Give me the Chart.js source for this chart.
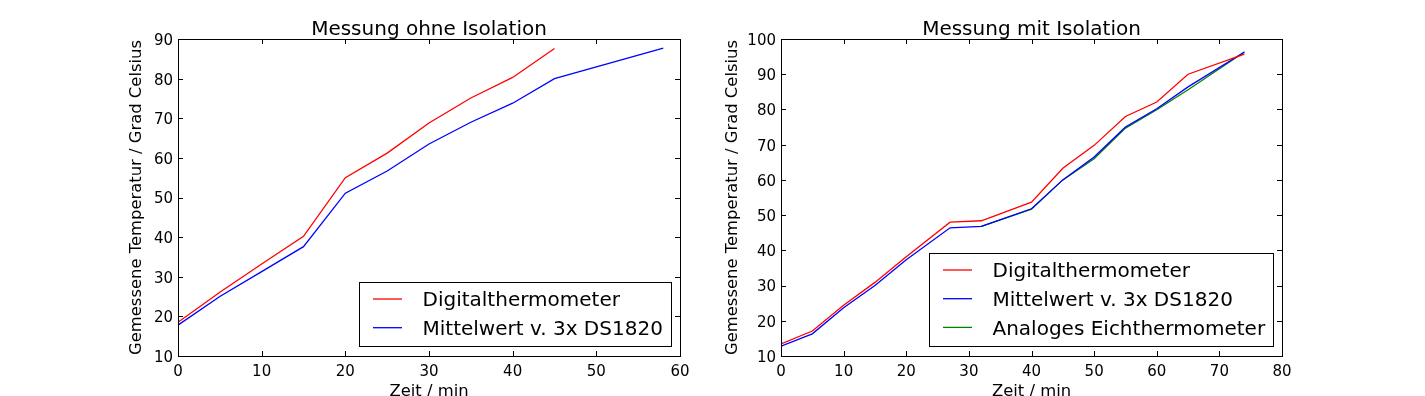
<!DOCTYPE html>
<html><head><meta charset="utf-8">
<script src="https://cdn.jsdelivr.net/npm/chart.js@4"></script>
<style>
html,body{margin:0;padding:0;background:#fff;overflow:hidden;width:1425px;height:396px}
.box{position:absolute;top:0;height:420px}
#wa{left:0;width:712px}
#wb{left:712px;width:713px}
canvas{display:block}
</style></head><body>
<div class="box" id="wa"><canvas id="ca" width="712" height="420"></canvas></div>
<div class="box" id="wb"><canvas id="cb" width="713" height="420"></canvas></div>
<script>
const FONT = "'DejaVu Sans', sans-serif";

// ---- Data: Messung ohne Isolation ----
const ohneTimeDigital = [0, 5, 10, 15, 20, 25, 30, 35, 40, 45];
const ohneDigital     = [18.5, 26.1, 33.2, 40.2, 55.0, 61.2, 68.8, 75.1, 80.3, 87.6];
const ohneTimeDS      = [0, 5, 10, 15, 20, 25, 30, 35, 40, 45, 58];
const ohneDS          = [17.8, 25.0, 31.3, 37.6, 51.1, 56.7, 63.5, 69.0, 73.8, 80.0, 87.7];

// ---- Data: Messung mit Isolation ----
const mitTime      = [0, 5, 10, 15, 20, 27, 32, 40, 45, 50, 55, 60, 65, 74];
const mitDigital   = [13.4, 17.1, 24.4, 30.9, 38.2, 48.0, 48.4, 53.7, 63.3, 69.8, 78.0, 82.1, 90.0, 95.7];
const mitDS        = [12.8, 16.3, 23.7, 30.0, 37.3, 46.4, 46.8, 51.8, 60.0, 66.5, 75.0, 80.2, 86.4, 96.3];
const mitTimeAnalog = [32, 40, 45, 50, 55, 60, 65, 74];
const mitAnalog     = [46.8, 51.7, 60.0, 66.0, 74.7, 79.9, 85.6, 96.3];

// ---- Labels ----
const titleOhne = "Messung ohne Isolation";
const titleMit = "Messung mit Isolation";
const xLabel = "Zeit / min";
const yLabel = "Gemessene Temperatur / Grad Celsius";
const seriesNames = ["Digitalthermometer", "Mittelwert v. 3x DS1820", "Analoges Eichthermometer"];
const seriesColors = ["#ff0000", "#0000ff", "#008000"];

function pts(xs, ys) { return xs.map((x, i) => ({x: x, y: ys[i]})); }

const frameTicksPlugin = {
  id: 'frameTicks',
  afterDatasetsDraw(chart) {
    const {ctx, chartArea: a, scales} = chart;
    ctx.save();
    ctx.strokeStyle = '#000';
    ctx.lineWidth = 1;
    const L = 5;
    ctx.beginPath();
    scales.x.ticks.forEach(t => {
      const px = Math.round(scales.x.getPixelForValue(t.value)) + 0.5;
      ctx.moveTo(px, a.top); ctx.lineTo(px, a.top + L);
      ctx.moveTo(px, a.bottom); ctx.lineTo(px, a.bottom - L);
    });
    scales.y.ticks.forEach(t => {
      const py = Math.round(scales.y.getPixelForValue(t.value)) + 0.5;
      ctx.moveTo(a.left, py); ctx.lineTo(a.left + L, py);
      ctx.moveTo(a.right, py); ctx.lineTo(a.right - L, py);
    });
    ctx.stroke();
    ctx.strokeRect(Math.round(a.left) + 0.5, Math.round(a.top) + 0.5,
                   Math.round(a.right) - Math.round(a.left), Math.round(a.bottom) - Math.round(a.top));
    ctx.restore();
  }
};

const mplLegendPlugin = {
  id: 'mplLegend',
  afterDraw(chart) {
    const {ctx, chartArea: a} = chart;
    const ds = chart.data.datasets;
    ctx.save();
    ctx.font = '20px ' + FONT;
    const textW = Math.max(...ds.map(d => ctx.measureText(d.label).width));
    const rowH = 28.7;
    const w = Math.round(64 + textW + 7.5);
    const h = Math.round(17 + 18.3 + rowH * (ds.length - 1));
    const right = Math.round(a.right - 9.5);
    const bottom = Math.round(a.bottom - 10);
    const x0 = right - w, y0 = bottom - h;
    ctx.fillStyle = '#fff';
    ctx.fillRect(x0, y0, w, h);
    ctx.strokeStyle = '#000';
    ctx.lineWidth = 1;
    ctx.strokeRect(x0 + 0.5, y0 + 0.5, w, h);
    ds.forEach((d, i) => {
      const cy = y0 + 17 + rowH * i;
      ctx.strokeStyle = d.borderColor;
      ctx.lineWidth = 1.3;
      ctx.beginPath();
      ctx.moveTo(x0 + 14, cy); ctx.lineTo(x0 + 43, cy);
      ctx.stroke();
      ctx.fillStyle = '#000';
      ctx.textBaseline = 'alphabetic';
      ctx.textAlign = 'left';
      ctx.fillText(d.label, x0 + 63.5, cy + 7.3);
    });
    ctx.restore();
  }
};

function makeChart(canvas, cfg) {
  const datasets = cfg.series.map(s => ({
    label: s.label,
    data: s.data,
    borderColor: s.color,
    backgroundColor: s.color,
    borderWidth: 1.3,
    pointRadius: 0,
    tension: 0,
    fill: false
  }));
  return new Chart(canvas, {
    type: 'line',
    data: {datasets: datasets},
    options: {
      responsive: false,
      animation: false,
      devicePixelRatio: 1,
      layout: {padding: {left: cfg.padLeft, right: cfg.padRight, top: 0, bottom: 0}},
      plugins: {
        legend: {display: false},
        tooltip: {enabled: false},
        title: {
          display: true, text: cfg.title, color: '#000', fullSize: false,
          font: {family: FONT, size: 20, weight: 'normal', lineHeight: 1.2},
          padding: {top: 18, bottom: -3}
        }
      },
      scales: {
        x: {
          type: 'linear', min: cfg.xMin, max: cfg.xMax,
          grid: {display: false, drawTicks: false},
          border: {display: false},
          ticks: {stepSize: 10, color: '#000', padding: 7, font: {family: FONT, size: 15}},
          title: {display: true, text: xLabel, color: '#000',
                  font: {family: FONT, size: 16.4, lineHeight: 1.2},
                  padding: {top: 0, bottom: 18.5}},
          afterFit: s => { s.height = 64; }
        },
        y: {
          type: 'linear', min: cfg.yMin, max: cfg.yMax,
          grid: {display: false, drawTicks: false},
          border: {display: false},
          ticks: {stepSize: 10, color: '#000', padding: 5, labelOffset: 2, font: {family: FONT, size: 15}},
          title: {display: true, text: yLabel, color: '#000',
                  font: {family: FONT, size: 16.4, lineHeight: 1.2},
                  padding: {top: cfg.yTitlePad, bottom: 0}},
          afterFit: s => { s.width = cfg.yWidth; }
        }
      }
    },
    plugins: [frameTicksPlugin, mplLegendPlugin]
  });
}

makeChart(document.getElementById('ca'), {
  title: titleOhne, xMin: 0, xMax: 60, yMin: 10, yMax: 90,
  padLeft: 115, padRight: 32, yWidth: 63, yTitlePad: 12.4,
  series: [
    {label: seriesNames[0], color: seriesColors[0], data: pts(ohneTimeDigital, ohneDigital)},
    {label: seriesNames[1], color: seriesColors[1], data: pts(ohneTimeDS, ohneDS)}
  ]
});

makeChart(document.getElementById('cb'), {
  title: titleMit, xMin: 0, xMax: 80, yMin: 10, yMax: 100,
  padLeft: 0, padRight: 143, yWidth: 69, yTitlePad: 11.1,
  series: [
    {label: seriesNames[0], color: seriesColors[0], data: pts(mitTime, mitDigital)},
    {label: seriesNames[1], color: seriesColors[1], data: pts(mitTime, mitDS)},
    {label: seriesNames[2], color: seriesColors[2], data: pts(mitTimeAnalog, mitAnalog)}
  ]
});
</script>
</body></html>
